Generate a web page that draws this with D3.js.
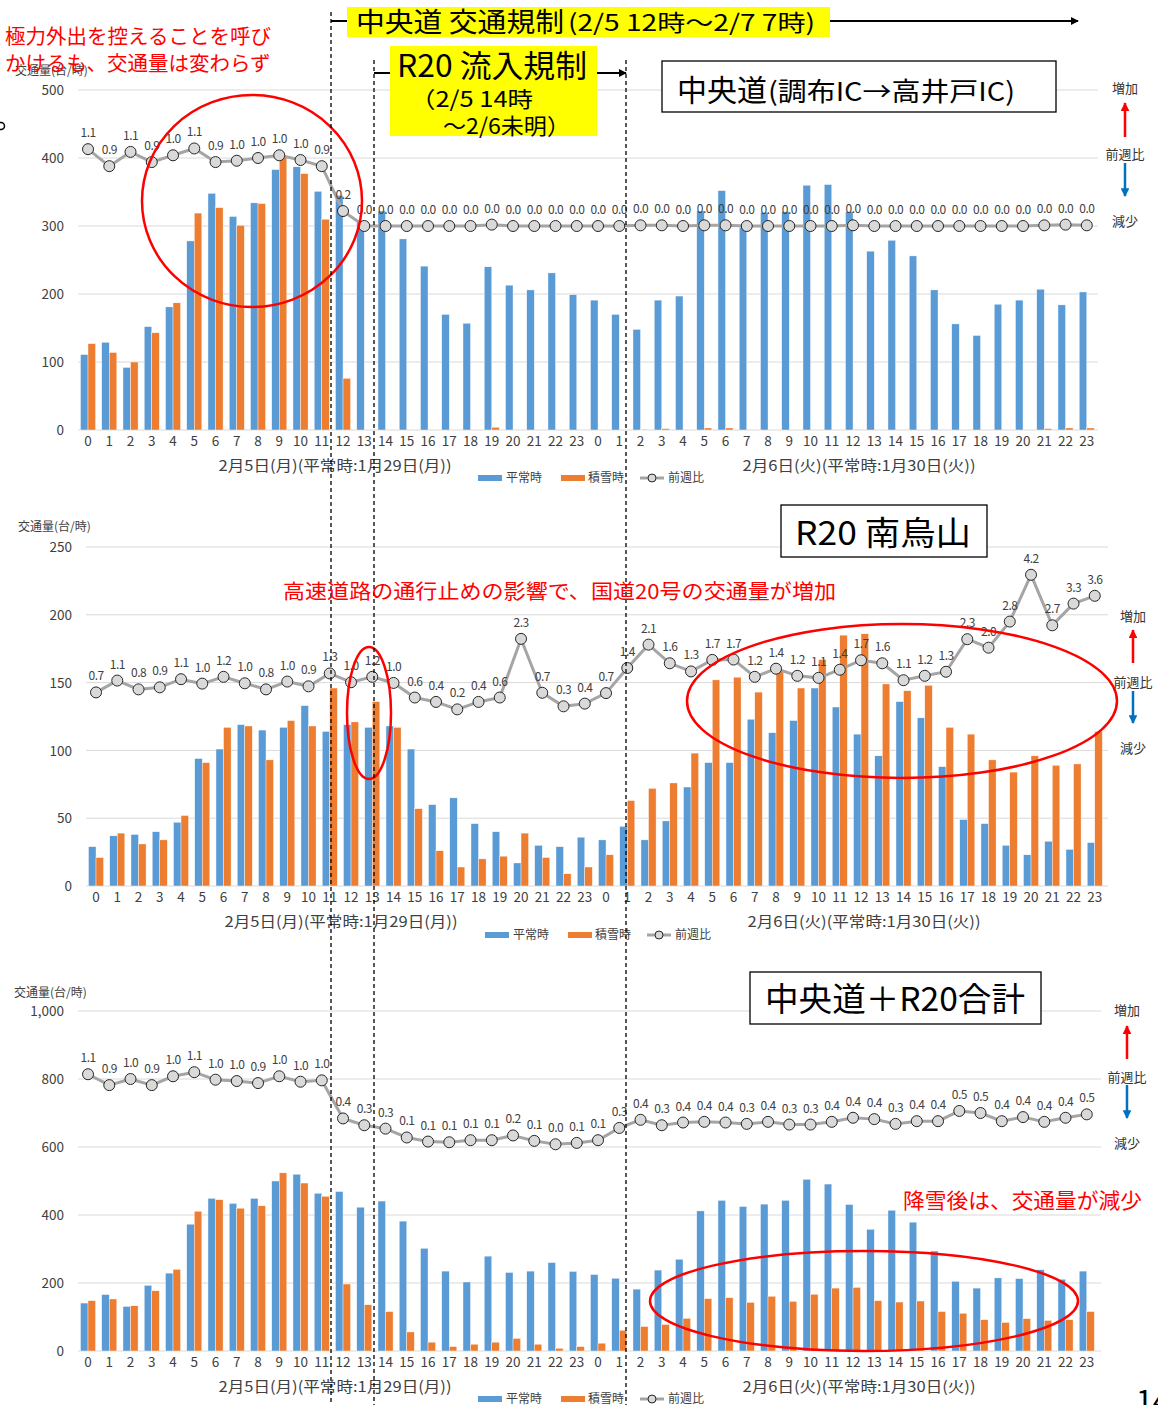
<!DOCTYPE html>
<html lang="ja">
<head>
<meta charset="UTF-8">
<title>中央道・R20 交通量</title>
<style>
  body { margin: 0; background: #fff; }
  svg text { font-family: "Noto Sans CJK JP", "Noto Sans", sans-serif; }
  .tick text { fill: #404040; }
</style>
</head>
<body>
<svg id="chart" width="1158" height="1405"></svg>
<script src="https://d3js.org/d3.v7.min.js"></script>
<script>
// 時間帯ラベル（2/5 0時〜23時、2/6 0時〜23時）
const hourLabels = ["0","1","2","3","4","5","6","7","8","9","10","11","12","13","14","15","16","17","18","19","20","21","22","23",
                    "0","1","2","3","4","5","6","7","8","9","10","11","12","13","14","15","16","17","18","19","20","21","22","23"];
const dayLabels = ["2月5日(月)(平常時:1月29日(月))", "2月6日(火)(平常時:1月30日(火))"];
const legendLabels = ["平常時", "積雪時", "前週比"];

// 中央道(調布IC→高井戸IC)
const chuoNormal = [111,129,92,152,181,278,348,314,334,383,387,351,345,305,322,281,241,170,157,240,213,206,231,199,
                    191,170,148,191,197,322,352,298,320,321,360,361,321,263,279,256,206,156,139,185,191,207,184,203];
const chuoSnow   = [127,114,100,143,187,319,327,301,333,402,377,310,76,0,0,0,0,0,0,4,0,0,0,0,
                    0,0,1,2,0,3,3,0,0,0,0,0,1,0,0,0,0,0,0,0,0,2,3,3];
const chuoRatio  = [1.13,0.88,1.09,0.94,1.04,1.14,0.94,0.96,1.00,1.04,0.97,0.88,0.22,0,0,0,0,0,0,0.02,0,0,0,0,
                    0,0,0.01,0.01,0,0.01,0.01,0,0,0,0,0,0.01,0,0,0,0,0,0,0,0,0.01,0.02,0.01];

// R20 南烏山
const r20Normal = [29,37,38,40,47,94,101,119,115,117,133,114,119,117,118,101,60,65,46,40,17,30,29,36,
                   34,44,34,48,73,91,91,123,113,122,146,132,112,96,136,124,88,49,46,30,23,33,27,32];
const r20Snow   = [21,39,31,34,52,91,117,118,93,122,118,146,121,136,117,57,26,14,20,22,39,21,9,14,
                   23,63,72,76,98,152,154,143,158,146,167,185,186,149,144,148,117,112,93,84,96,89,90,114];
const r20Ratio  = [0.71,1.06,0.80,0.86,1.10,0.97,1.17,0.98,0.80,1.03,0.89,1.27,1.01,1.17,0.99,0.56,0.43,0.21,0.43,0.56,2.29,0.70,0.30,0.38,
                   0.69,1.43,2.12,1.57,1.33,1.67,1.68,1.17,1.41,1.20,1.14,1.38,1.66,1.57,1.07,1.20,1.32,2.28,2.03,2.80,4.18,2.69,3.33,3.56];

// 中央道＋R20合計
const totalNormal = [141,166,131,193,229,373,449,434,449,500,520,464,469,423,441,382,302,235,203,279,231,235,260,234,
                     225,214,182,238,270,412,443,425,432,443,505,491,431,358,414,379,294,205,185,215,213,239,211,235];
const totalSnow   = [148,153,133,177,240,411,445,420,427,524,494,455,197,136,116,56,26,13,20,26,37,20,8,13,
                     23,61,72,78,96,154,157,143,161,146,167,185,187,148,144,147,116,111,92,84,95,90,92,116];
const totalRatio  = [1.07,0.91,1.00,0.91,1.04,1.10,0.99,0.97,0.94,1.04,0.96,0.98,0.42,0.32,0.27,0.14,0.08,0.07,0.10,0.10,0.17,0.09,0.04,0.06,
                     0.10,0.28,0.40,0.32,0.36,0.37,0.36,0.34,0.37,0.33,0.33,0.37,0.43,0.41,0.34,0.38,0.38,0.53,0.50,0.38,0.44,0.37,0.43,0.48];

const BLUE = "#5B9BD5", ORANGE = "#ED7D31", GREY = "#A5A5A5", RED = "#FF0000", ARROWBLUE = "#0070C0";

const svg = d3.select("#chart");
svg.append("rect").attr("width", 1158).attr("height", 1405).attr("fill", "#fff");

const defs = svg.append("defs");
function marker(id, color, size) {
  defs.append("marker").attr("id", id).attr("viewBox", "0 0 10 10").attr("refX", 9).attr("refY", 5)
    .attr("markerWidth", size).attr("markerHeight", size).attr("orient", "auto-start-reverse")
    .append("path").attr("d", "M0,0 L10,5 L0,10 z").attr("fill", color);
}
marker("arrBlack", "#000", 4);
marker("arrRed", RED, 3.5);
marker("arrBlue", ARROWBLUE, 3.5);

function drawPanel(cfg) {
  const g = svg.append("g");
  const x = d3.scaleBand().domain(d3.range(hourLabels.length)).range(cfg.xRange)
    .paddingInner(0.29).paddingOuter(0.145);
  const sub = d3.scaleBand().domain(["normal", "snow"]).range([0, x.bandwidth()]);
  const y = d3.scaleLinear().domain([0, cfg.yMax]).range([cfg.yBottom, cfg.yTop]);
  const yR = d3.scaleLinear().domain(cfg.ratioDomain).range([cfg.yBottom, cfg.yTop]);

  // gridlines
  g.selectAll(".grid").data(cfg.yTicks).join("line")
    .attr("x1", cfg.gridX[0]).attr("x2", cfg.gridX[1])
    .attr("y1", d => y(d)).attr("y2", d => y(d))
    .attr("stroke", "#d9d9d9").attr("stroke-width", 1);

  // y axis
  const ya = g.append("g").attr("transform", `translate(${cfg.tickX},0)`)
    .call(d3.axisLeft(y).tickValues(cfg.yTicks).tickSize(0).tickPadding(0).tickFormat(cfg.fmt));
  ya.select(".domain").remove();
  ya.selectAll("text").attr("font-size", 13.5).attr("dy", "0.35em");

  g.append("text").attr("x", cfg.titleX).attr("y", cfg.titleY).attr("font-size", 12)
    .attr("fill", "#404040").attr("dominant-baseline", "middle").text("交通量(台/時)");

  // x axis
  const xa = g.append("g").attr("transform", `translate(0,${cfg.yBottom + 5})`)
    .call(d3.axisBottom(x).tickSize(0).tickPadding(0).tickFormat(i => hourLabels[i]));
  xa.select(".domain").remove();
  xa.selectAll("text").attr("font-size", 13.5).attr("dy", "0.8em");

  // day labels
  cfg.dayX.forEach((cx, k) => {
    g.append("text").attr("x", cx).attr("y", cfg.yBottom + 41).attr("text-anchor", "middle")
      .attr("font-size", 15).attr("textLength", 233).attr("lengthAdjust", "spacingAndGlyphs")
      .attr("fill", "#404040").text(dayLabels[k]);
  });

  // bars
  const idx = d3.range(hourLabels.length);
  g.selectAll(".bn").data(idx).join("rect")
    .attr("x", i => x(i) + sub("normal")).attr("width", sub.bandwidth())
    .attr("y", i => y(cfg.normal[i])).attr("height", i => y(0) - y(cfg.normal[i]))
    .attr("fill", BLUE).attr("stroke", "#fff").attr("stroke-width", 0.4);
  g.selectAll(".bs").data(idx).join("rect")
    .attr("x", i => x(i) + sub("snow")).attr("width", sub.bandwidth())
    .attr("y", i => y(cfg.snow[i])).attr("height", i => y(0) - y(cfg.snow[i]))
    .attr("fill", ORANGE).attr("stroke", "#fff").attr("stroke-width", 0.4);

  // ratio line
  const cxOf = i => x(i) + x.bandwidth() / 2;
  g.append("path").datum(idx)
    .attr("d", d3.line().x(cxOf).y(i => yR(cfg.ratio[i])))
    .attr("fill", "none").attr("stroke", GREY).attr("stroke-width", 3);
  g.selectAll(".pt").data(idx).join("circle")
    .attr("cx", cxOf).attr("cy", i => yR(cfg.ratio[i])).attr("r", 5.5)
    .attr("fill", "#D9D9D9").attr("stroke", "#262626").attr("stroke-width", 1);
  g.selectAll(".lbl").data(idx).join("text")
    .attr("x", cxOf).attr("y", i => yR(cfg.ratio[i]) - 12)
    .attr("text-anchor", "middle").attr("font-size", 12).attr("letter-spacing", -0.6)
    .attr("fill", "#404040").text(i => d3.format(".1f")(cfg.ratio[i]));

  // legend
  const lg = g.append("g").attr("transform", `translate(${cfg.legendX},${cfg.legendY})`);
  lg.append("rect").attr("x", 0).attr("y", -3).attr("width", 24).attr("height", 6).attr("fill", BLUE);
  lg.append("text").attr("x", 28).attr("y", 0).attr("dy", "0.35em").attr("font-size", 12).attr("fill", "#404040").text(legendLabels[0]);
  lg.append("rect").attr("x", 83).attr("y", -3).attr("width", 24).attr("height", 6).attr("fill", ORANGE);
  lg.append("text").attr("x", 110).attr("y", 0).attr("dy", "0.35em").attr("font-size", 12).attr("fill", "#404040").text(legendLabels[1]);
  lg.append("line").attr("x1", 162).attr("x2", 186).attr("y1", 0).attr("y2", 0).attr("stroke", GREY).attr("stroke-width", 3);
  lg.append("circle").attr("cx", 174).attr("cy", 0).attr("r", 4).attr("fill", "#D9D9D9").attr("stroke", "#262626");
  lg.append("text").attr("x", 190).attr("y", 0).attr("dy", "0.35em").attr("font-size", 12).attr("fill", "#404040").text(legendLabels[2]);

  // 増加 / 前週比 / 減少
  const r = cfg.side;
  [["増加", r.up], ["前週比", r.mid], ["減少", r.down]].forEach(([t, yy]) => {
    g.append("text").attr("x", r.x).attr("y", yy).attr("text-anchor", "middle").attr("dy", "0.35em")
      .attr("font-size", 13).attr("fill", "#333").text(t);
  });
  g.append("line").attr("x1", r.x).attr("x2", r.x).attr("y1", r.redArrow[0]).attr("y2", r.redArrow[1])
    .attr("stroke", RED).attr("stroke-width", 2.5).attr("marker-end", "url(#arrRed)");
  g.append("line").attr("x1", r.x).attr("x2", r.x).attr("y1", r.blueArrow[0]).attr("y2", r.blueArrow[1])
    .attr("stroke", ARROWBLUE).attr("stroke-width", 2.5).attr("marker-end", "url(#arrBlue)");

  return g;
}

// panel 1
drawPanel({
  normal: chuoNormal, snow: chuoSnow, ratio: chuoRatio,
  xRange: [77.4, 1097.4], gridX: [78, 1098], yTop: 90, yBottom: 430, yMax: 500,
  yTicks: [0, 100, 200, 300, 400, 500], fmt: d3.format("d"), ratioDomain: [-3, 2],
  tickX: 64, titleX: 15, titleY: 72, legendX: 478, legendY: 478, dayX: [335, 859],
  side: { x: 1125, up: 88, mid: 154, down: 221, redArrow: [137, 103], blueArrow: [163, 196] }
});
// panel 2
drawPanel({
  normal: r20Normal, snow: r20Snow, ratio: r20Ratio,
  xRange: [85.4, 1105.4], gridX: [86, 1108], yTop: 547, yBottom: 886, yMax: 250,
  yTicks: [0, 50, 100, 150, 200, 250], fmt: d3.format("d"), ratioDomain: [-5, 5],
  tickX: 72, titleX: 18, titleY: 528, legendX: 485, legendY: 935, dayX: [341, 864],
  side: { x: 1133, up: 616, mid: 682, down: 748, redArrow: [663, 630], blueArrow: [691, 723] }
});
// panel 3
drawPanel({
  normal: totalNormal, snow: totalSnow, ratio: totalRatio,
  xRange: [77.4, 1097.4], gridX: [78, 1101], yTop: 1011, yBottom: 1351, yMax: 1000,
  yTicks: [0, 200, 400, 600, 800, 1000], fmt: d3.format(","), ratioDomain: [-3, 2],
  tickX: 64, titleX: 14, titleY: 994, legendX: 478, legendY: 1399, dayX: [335, 859],
  side: { x: 1127, up: 1010, mid: 1077, down: 1143, redArrow: [1059, 1026], blueArrow: [1085, 1118] }
});

// ---- annotations ----
const ann = svg.append("g");

// red ellipses
ann.append("ellipse").attr("cx", 252).attr("cy", 201).attr("rx", 110).attr("ry", 106)
  .attr("fill", "none").attr("stroke", RED).attr("stroke-width", 2.5);
ann.append("ellipse").attr("cx", 369).attr("cy", 713).attr("rx", 22).attr("ry", 66)
  .attr("fill", "none").attr("stroke", RED).attr("stroke-width", 2.5);
ann.append("ellipse").attr("cx", 902).attr("cy", 701).attr("rx", 215).attr("ry", 77)
  .attr("fill", "none").attr("stroke", RED).attr("stroke-width", 2.5);
ann.append("ellipse").attr("cx", 864).attr("cy", 1301).attr("rx", 214).attr("ry", 50)
  .attr("fill", "none").attr("stroke", RED).attr("stroke-width", 2.5);

// dashed regulation lines
[[331, 12], [374, 60], [626, 60]].forEach(([xx, y0]) => {
  ann.append("line").attr("x1", xx).attr("x2", xx).attr("y1", y0).attr("y2", 1405)
    .attr("stroke", "#000").attr("stroke-width", 1.3).attr("stroke-dasharray", "4,3");
});

// 中央道 交通規制 bar
ann.append("line").attr("x1", 331).attr("x2", 348).attr("y1", 21).attr("y2", 21).attr("stroke", "#000").attr("stroke-width", 2);
ann.append("line").attr("x1", 830).attr("x2", 1078).attr("y1", 21).attr("y2", 21).attr("stroke", "#000").attr("stroke-width", 2)
  .attr("marker-end", "url(#arrBlack)");
ann.append("rect").attr("x", 347).attr("y", 7).attr("width", 483).attr("height", 30).attr("fill", "#FFFF00");
ann.append("text").attr("x", 356).attr("y", 32).attr("font-size", 27).attr("fill", "#000")
  .attr("textLength", 208).attr("lengthAdjust", "spacingAndGlyphs").text("中央道 交通規制");
ann.append("text").attr("x", 568).attr("y", 31).attr("font-size", 23).attr("fill", "#000")
  .attr("textLength", 247).attr("lengthAdjust", "spacingAndGlyphs").text("(2/5 12時～2/7 7時)");

// R20 流入規制 bar
ann.append("line").attr("x1", 374).attr("x2", 390).attr("y1", 73).attr("y2", 73).attr("stroke", "#000").attr("stroke-width", 2);
ann.append("line").attr("x1", 597).attr("x2", 626).attr("y1", 73).attr("y2", 73).attr("stroke", "#000").attr("stroke-width", 2)
  .attr("marker-end", "url(#arrBlack)");
ann.append("rect").attr("x", 390).attr("y", 46).attr("width", 207).attr("height", 90).attr("fill", "#FFFF00");
ann.append("text").attr("x", 397).attr("y", 77).attr("font-size", 31).attr("fill", "#000")
  .attr("textLength", 190).attr("lengthAdjust", "spacingAndGlyphs").text("R20 流入規制");
ann.append("text").attr("x", 410).attr("y", 107).attr("font-size", 22).attr("fill", "#000")
  .attr("textLength", 123).attr("lengthAdjust", "spacingAndGlyphs").text("（2/5 14時");
ann.append("text").attr("x", 443).attr("y", 134).attr("font-size", 22).attr("fill", "#000")
  .attr("textLength", 127).attr("lengthAdjust", "spacingAndGlyphs").text("～2/6未明）");

// title boxes
function box(x0, y0, w, h) {
  ann.append("rect").attr("x", x0).attr("y", y0).attr("width", w).attr("height", h)
    .attr("fill", "#fff").attr("stroke", "#000").attr("stroke-width", 1.3);
}
box(662, 61, 394, 51);
ann.append("text").attr("x", 677).attr("y", 101).attr("font-size", 30).attr("fill", "#000").text("中央道");
ann.append("text").attr("x", 768).attr("y", 101).attr("font-size", 26).attr("fill", "#000")
  .attr("textLength", 247).attr("lengthAdjust", "spacingAndGlyphs").text("(調布IC→高井戸IC)");
box(781, 505, 206, 52);
ann.append("text").attr("x", 795).attr("y", 545).attr("font-size", 33).attr("fill", "#000")
  .attr("textLength", 176).attr("lengthAdjust", "spacingAndGlyphs").text("R20 南烏山");
box(750, 972, 291, 52);
ann.append("text").attr("x", 765).attr("y", 1011).attr("font-size", 33).attr("fill", "#000")
  .attr("textLength", 260).attr("lengthAdjust", "spacingAndGlyphs").text("中央道＋R20合計");

// red comments
ann.append("text").attr("x", 5).attr("y", 44).attr("font-size", 20.5).attr("fill", RED).text("極力外出を控えることを呼び");
ann.append("text").attr("x", 5).attr("y", 71).attr("font-size", 20.5).attr("fill", RED).text("かけるも、交通量は変わらず");
ann.append("text").attr("x", 283).attr("y", 599).attr("font-size", 20.5).attr("fill", RED)
  .attr("textLength", 553).attr("lengthAdjust", "spacingAndGlyphs").text("高速道路の通行止めの影響で、国道20号の交通量が増加");
ann.append("text").attr("x", 903).attr("y", 1208).attr("font-size", 21).attr("fill", RED)
  .attr("textLength", 239).attr("lengthAdjust", "spacingAndGlyphs").text("降雪後は、交通量が減少");

// cut-off marks at page edges
ann.append("circle").attr("cx", 1).attr("cy", 126).attr("r", 3.5).attr("fill", "none").attr("stroke", "#000").attr("stroke-width", 1.5);
ann.append("text").attr("x", 1136).attr("y", 1412).attr("font-size", 30).attr("fill", "#000").text("14");
</script>
</body>
</html>
